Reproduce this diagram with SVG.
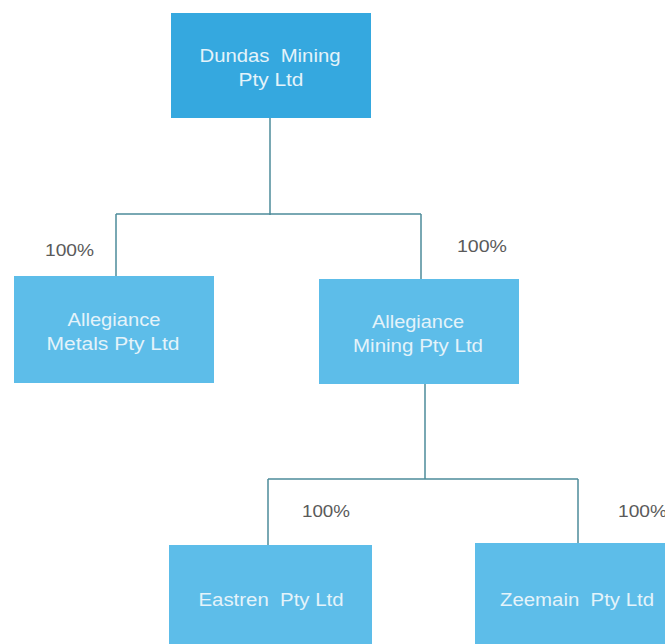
<svg xmlns="http://www.w3.org/2000/svg" width="665" height="644" viewBox="0 0 665 644">
<style>
.box{fill:#5DBDE9}
.top{fill:#35A8DF}
.t{font-family:"Liberation Sans",Arial,sans-serif;font-size:17.5px;fill:#E4F3FA;text-anchor:middle;white-space:pre}
.tt{font-size:19px}
.p{font-family:"Liberation Sans",Arial,sans-serif;font-size:16.5px;fill:#5A5A5A}
.c{stroke:#4E8C9A;stroke-width:1.5;fill:none}
</style>
<rect width="665" height="644" fill="#FFFFFF"/>
<g id="connectors">
<path class="c" d="M270 118V215M116 214H421M116 214V276M421 214V279"/>
<path class="c" d="M425 384V479M268 479H578M268 479V545M578 479V543"/>
</g>
<g id="dundas">
<rect class="top" x="171" y="13" width="200" height="105"/>
<text class="t tt" x="270" y="62" textLength="141" lengthAdjust="spacingAndGlyphs">Dundas  Mining</text>
<text class="t tt" x="271" y="86" textLength="65" lengthAdjust="spacingAndGlyphs">Pty Ltd</text>
</g>
<g id="metals">
<rect class="box" x="14" y="276" width="200" height="107"/>
<text class="t" x="114" y="326" textLength="93" lengthAdjust="spacingAndGlyphs">Allegiance</text>
<text class="t" x="113" y="350" textLength="133" lengthAdjust="spacingAndGlyphs">Metals Pty Ltd</text>
<text class="p" x="45" y="256" textLength="49" lengthAdjust="spacingAndGlyphs">100%</text>
</g>
<g id="mining">
<rect class="box" x="319" y="279" width="200" height="105"/>
<text class="t" x="418" y="328" textLength="92" lengthAdjust="spacingAndGlyphs">Allegiance</text>
<text class="t" x="418" y="352" textLength="130" lengthAdjust="spacingAndGlyphs">Mining Pty Ltd</text>
<text class="p" x="457" y="252" textLength="50" lengthAdjust="spacingAndGlyphs">100%</text>
</g>
<g id="eastren">
<rect class="box" x="169" y="545" width="203" height="99"/>
<text class="t" x="271" y="606" textLength="145" lengthAdjust="spacingAndGlyphs">Eastren  Pty Ltd</text>
<text class="p" x="302" y="517" textLength="48" lengthAdjust="spacingAndGlyphs">100%</text>
</g>
<g id="zeemain">
<rect class="box" x="475" y="543" width="190" height="101"/>
<text class="t" x="577" y="606" textLength="154" lengthAdjust="spacingAndGlyphs">Zeemain  Pty Ltd</text>
<text class="p" x="618" y="517" textLength="49" lengthAdjust="spacingAndGlyphs">100%</text>
</g>
</svg>
